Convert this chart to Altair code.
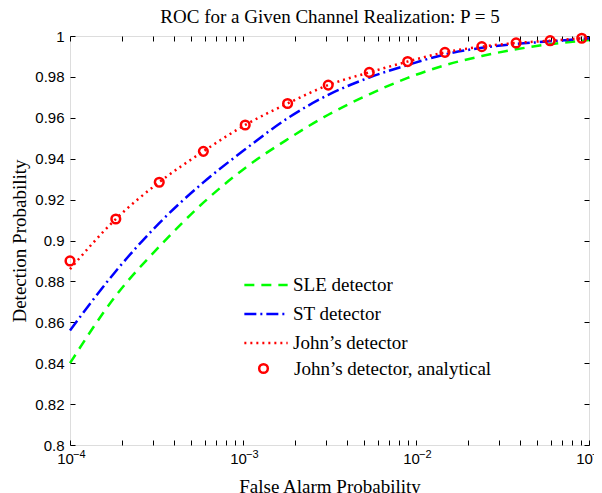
import altair as alt
import pandas as pd

# ---- data ----
fa_line = [1e-4, 1.84e-4, 3.28e-4, 5.9e-4, 1.03e-3, 1.81e-3, 3.11e-3, 5.37e-3,
           8.95e-3, 1.47e-2, 2.40e-2, 3.79e-2, 5.96e-2, 1e-1]
pd_sle = [0.840, 0.873, 0.897, 0.9185, 0.9355, 0.9495, 0.9615, 0.9715,
          0.9795, 0.9857, 0.9902, 0.9935, 0.996, 0.998]
pd_st = [0.856, 0.885, 0.9085, 0.9284, 0.9446, 0.9598, 0.9712, 0.9797,
         0.9858, 0.9910, 0.9942, 0.9961, 0.9974, 0.9989]
pd_john = [0.886, 0.9105, 0.9285, 0.9436, 0.9565, 0.967, 0.976, 0.9822,
           0.9875, 0.992, 0.9948, 0.9966, 0.9977, 0.9992]

fa_circ = [1e-4, 1.84e-4, 3.28e-4, 5.9e-4, 1.03e-3, 1.81e-3, 3.11e-3, 5.37e-3,
           8.95e-3, 1.47e-2, 2.40e-2, 3.79e-2, 5.96e-2, 9.08e-2]
pd_circ = [0.890, 0.9105, 0.9285, 0.9436, 0.9565, 0.967, 0.976, 0.9822,
           0.9875, 0.992, 0.9948, 0.9966, 0.9977, 0.9989]

series_names = ["SLE detector", "ST detector", "John\u2019s detector"]
series_colors = ["#00ff00", "#0000ff", "#ff0000"]
series_dash = [[10, 7], [12, 4, 2, 4], [2, 4]]
series_width = [2.5, 2.5, 1.5]
circ_name = "John\u2019s detector, analytical"
title_text = "ROC for a Given Channel Realization: P = 5"

decades = [1e-4, 1e-3, 1e-2, 1e-1]
exponents = ["\u22124", "\u22123", "\u22122", "\u22121"]
x_ticks = [m * 10.0 ** k for k in (-4, -3, -2) for m in range(1, 10)] + [1e-1]
y_ticks = [round(0.8 + 0.02 * i, 2) for i in range(11)]

rows = []
for name, vals in zip(series_names, [pd_sle, pd_st, pd_john]):
    for xv, yv in zip(fa_line, vals):
        rows.append({"fa": xv, "pd": yv, "series": name})
df_lines = pd.DataFrame(rows)
df_circ = pd.DataFrame({"fa": fa_circ, "pd": pd_circ, "kind": [circ_name] * len(fa_circ)})
df_exp = pd.DataFrame({"fa": decades, "pd": [0.8] * len(decades), "txt": exponents})
df_title = pd.DataFrame({"t": [title_text]})

SERIF = "Liberation Serif"
SANS = "Liberation Sans"

xscale = alt.Scale(type="log", domain=[1e-4, 1e-1], nice=False)
yscale = alt.Scale(domain=[0.8, 1.0], nice=False, zero=False)

label_expr = ("(datum.value == 0.0001 || datum.value == 0.001 || datum.value == 0.01 || "
              "datum.value == 0.1) ? '10' : ''")

x_axis = alt.Axis(values=x_ticks, labelExpr=label_expr, orient="bottom", offset=-5,
                  tickSize=5, domain=False, grid=False, labelPadding=6, labelFlush=False,
                  labelOverlap=False, labelOffset=-5, labelFont=SANS, labelFontSize=15,
                  labelColor="black", tickColor="black", title="False Alarm Probability",
                  titleFont=SERIF, titleFontSize=19, titleFontWeight="normal",
                  titleColor="black", titleBaseline="alphabetic", titleY=52)
y_axis = alt.Axis(values=y_ticks, labelExpr="format(datum.value, '~g')", orient="left",
                  offset=-5, tickSize=5, domain=False, grid=False, labelPadding=6,
                  labelFont=SANS, labelFontSize=15, labelColor="black", tickColor="black",
                  title="Detection Probability", titleFont=SERIF, titleFontSize=19,
                  titleFontWeight="normal", titleColor="black", titleBaseline="alphabetic",
                  titleX=-50, titleAngle=270)

lines = alt.Chart(df_lines).mark_line(interpolate="monotone").encode(
    x=alt.X("fa:Q", scale=xscale, axis=x_axis),
    y=alt.Y("pd:Q", scale=yscale, axis=y_axis),
    color=alt.Color("series:N", scale=alt.Scale(domain=series_names, range=series_colors),
                    legend=alt.Legend(orient="none", legendX=186, legendY=239, title=None,
                                      symbolType="M-2.5,0L2.5,0", symbolSize=300,
                                      symbolStrokeWidth=2.5, rowPadding=9,
                                      labelOffset=17, padding=0, labelFont=SERIF,
                                      labelFontSize=19, labelColor="black", labelLimit=400)),
    strokeDash=alt.StrokeDash("series:N", scale=alt.Scale(domain=series_names, range=series_dash),
                              legend=None),
    strokeWidth=alt.StrokeWidth("series:N",
                                scale=alt.Scale(domain=series_names, range=series_width),
                                legend=None),
)

circles = alt.Chart(df_circ).mark_point(filled=False, color="#ff0000", strokeWidth=2.5,
                                        size=75, opacity=1).encode(
    x=alt.X("fa:Q", scale=xscale),
    y=alt.Y("pd:Q", scale=yscale),
    shape=alt.Shape("kind:N", scale=alt.Scale(domain=[circ_name], range=["circle"]),
                    legend=alt.Legend(orient="none", legendX=184, legendY=323, title=None,
                                      symbolSize=75, symbolStrokeWidth=2.5,
                                      symbolStrokeColor="#ff0000", symbolFillColor="transparent",
                                      labelOffset=21, padding=0,
                                      labelFont=SERIF, labelFontSize=19, labelColor="black",
                                      labelLimit=400)),
)

exp_text = alt.Chart(df_exp).mark_text(align="left", baseline="alphabetic", dx=3, dy=13,
                                       font=SANS, fontSize=11, color="black").encode(
    x=alt.X("fa:Q", scale=xscale),
    y=alt.Y("pd:Q", scale=yscale),
    text="txt:N",
)

title_mark = alt.Chart(df_title).mark_text(align="center", baseline="alphabetic", font=SERIF,
                                           fontSize=19, color="black").encode(
    x=alt.value(260), y=alt.value(-13), text="t:N",
)

main = alt.layer(lines, circles, exp_text, title_mark)

ticks = alt.Chart(df_circ).mark_point(opacity=0).encode(
    x=alt.X("fa:Q", scale=xscale,
            axis=alt.Axis(values=x_ticks, orient="top", offset=-5, tickSize=5, domain=False,
                          grid=False, labels=False, title=None, tickColor="black")),
    y=alt.Y("pd:Q", scale=yscale,
            axis=alt.Axis(values=y_ticks, orient="right", offset=-5, tickSize=5, domain=False,
                          grid=False, labels=False, title=None, tickColor="black")),
)

chart = alt.layer(main, ticks).resolve_scale(x="independent", y="independent").properties(
    width=519, height=409,
    autosize=alt.AutoSizeParams(type="none"),
    padding={"left": 62, "top": 28, "right": 5, "bottom": 48},
).configure_view(stroke="black", strokeWidth=1.2).configure(background="white")

chart.save("out.html", embed_options={"renderer": "svg", "actions": False})
